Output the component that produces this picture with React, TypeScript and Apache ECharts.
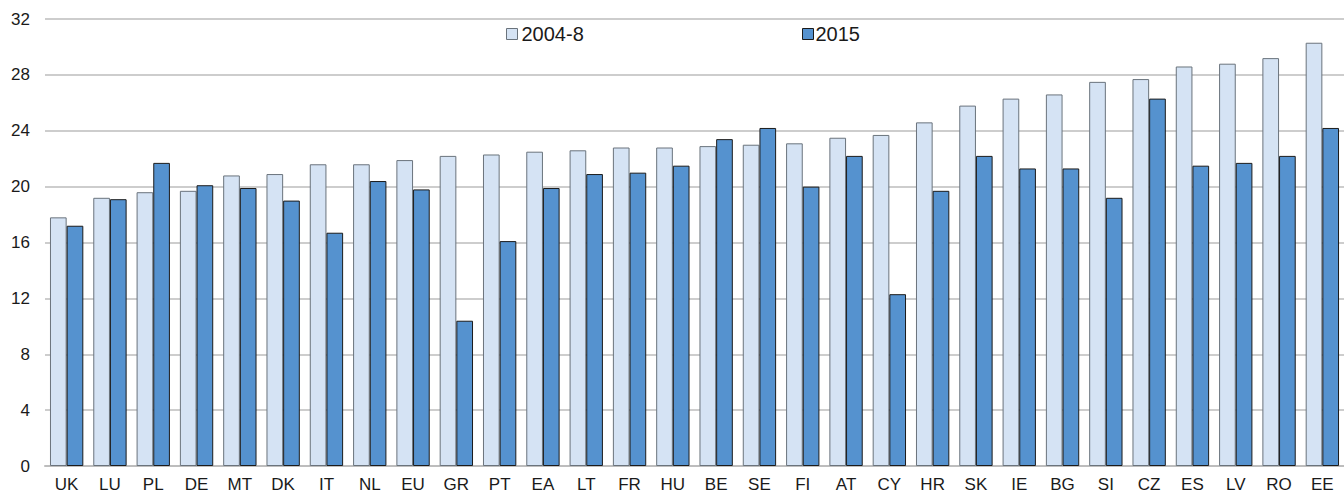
import React, { useEffect, useRef } from "react";
import * as echarts from "echarts";

const categories = ["UK","LU","PL","DE","MT","DK","IT","NL","EU","GR","PT","EA","LT","FR","HU","BE","SE","FI","AT","CY","HR","SK","IE","BG","SI","CZ","ES","LV","RO","EE"];
const values2004_8 = [17.8,19.2,19.6,19.7,20.8,20.9,21.6,21.6,21.9,22.2,22.3,22.5,22.6,22.8,22.8,22.9,23.0,23.1,23.5,23.7,24.6,25.8,26.3,26.6,27.5,27.7,28.6,28.8,29.2,30.3];
const values2015 = [17.2,19.1,21.7,20.1,19.9,19.0,16.7,20.4,19.8,10.4,16.1,19.9,20.9,21.0,21.5,23.4,24.2,20.0,22.2,12.3,19.7,22.2,21.3,21.3,19.2,26.3,21.5,21.7,22.2,24.2];
const yTicks = [0, 4, 8, 12, 16, 20, 24, 28, 32];

const lightColor = "#D5E3F4";
const darkColor = "#5592CF";
const lightBorder = "#6a737c";
const darkBorder = "#1b1b1b";
const font = "'Liberation Sans', Arial, sans-serif";

export default function App() {
  const ref = useRef<HTMLDivElement>(null);
  useEffect(() => {
    const chart = echarts.init(ref.current!, null, { renderer: "svg" });
    chart.setOption({
      animation: false,
      backgroundColor: "#ffffff",
      textStyle: { fontFamily: font },
      grid: { left: 45, right: 0, top: 19, bottom: 31, containLabel: false },
      legend: [
        {
          left: 501,
          top: 19,
          itemWidth: 11,
          itemHeight: 11,
          textStyle: { fontSize: 20, color: "#1a1a1a", fontFamily: font, padding: [0, 0, 0, -1] },
          data: [{ name: "2004-8", icon: "rect", itemStyle: { color: lightColor, borderColor: lightBorder, borderWidth: 1 } }],
        },
        {
          left: 797,
          top: 19,
          itemWidth: 11,
          itemHeight: 11,
          textStyle: { fontSize: 20, color: "#1a1a1a", fontFamily: font, padding: [0, 0, 0, -3] },
          data: [{ name: "2015", icon: "rect", itemStyle: { color: darkColor, borderColor: darkBorder, borderWidth: 1 } }],
        },
      ],
      xAxis: {
        type: "category",
        data: categories,
        axisLine: { show: true, lineStyle: { color: "#bdbdbd", width: 2 } },
        axisTick: { show: false },
        axisLabel: { fontSize: 17, color: "#1a1a1a", margin: 10, interval: 0, fontFamily: font },
      },
      yAxis: {
        type: "value",
        min: yTicks[0],
        max: yTicks[yTicks.length - 1],
        interval: 4,
        axisLine: { show: false },
        axisTick: { show: false },
        axisLabel: { fontSize: 17, color: "#1a1a1a", margin: 15, fontFamily: font },
        splitLine: { lineStyle: { color: "#bdbdbd", width: 1.5 } },
      },
      series: [
        {
          name: "2004-8",
          type: "bar",
          data: values2004_8,
          barGap: "0%",
          barCategoryGap: "23%",
          itemStyle: { color: lightColor, borderColor: lightBorder, borderWidth: 1 },
        },
        {
          name: "2015",
          type: "bar",
          data: values2015,
          barGap: "0%",
          barCategoryGap: "23%",
          itemStyle: { color: darkColor, borderColor: darkBorder, borderWidth: 1 },
        },
      ],
    });
    return () => chart.dispose();
  }, []);
  return (
    <div
      ref={ref}
      style={{ position: "fixed", left: 0, top: 0, width: 1344, height: 497, background: "#fff" }}
    />
  );
}
